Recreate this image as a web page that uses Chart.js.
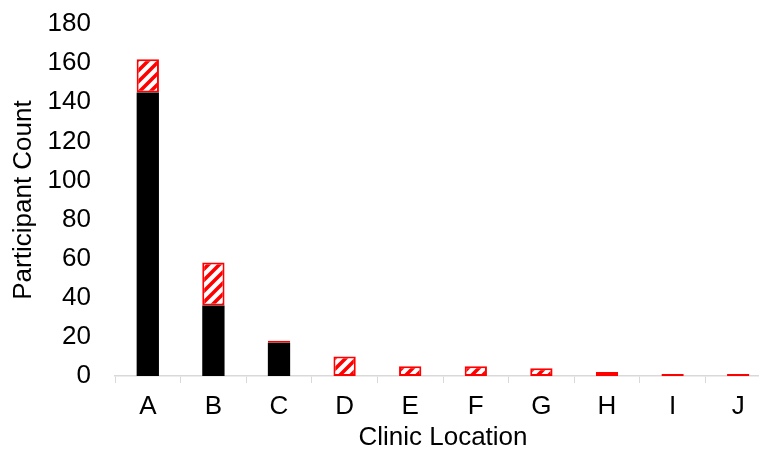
<!DOCTYPE html>
<html>
<head>
<meta charset="utf-8">
<script src="https://cdn.jsdelivr.net/npm/chart.js@4/dist/chart.umd.min.js"></script>
<style>
  html, body { margin: 0; padding: 0; background: #fff; overflow: hidden; }
  canvas { display: block; }
</style>
</head>
<body>
<canvas id="clinicChart" width="771" height="457"></canvas>
<script>
// Valores
const clinics = ["A", "B", "C", "D", "E", "F", "G", "H", "I", "J"];
const solidCounts = [145, 36, 17, 0, 0, 0, 0, 0, 0, 0];
const hatchCounts = [17, 22, 1, 10, 5, 5, 4, 2, 1, 1];
const yTicks = [0, 20, 40, 60, 80, 100, 120, 140, 160, 180];

// padrão listrado vermelho/branco
function makeHatch() {
  const size = 11;
  const c = document.createElement("canvas");
  c.width = size; c.height = size;
  const g = c.getContext("2d");
  g.fillStyle = "#fff";
  g.fillRect(0, 0, size, size);
  g.strokeStyle = "#ff0000";
  g.lineWidth = 3.6;
  g.beginPath();
  g.moveTo(-2, size + 2); g.lineTo(size + 2, -2);
  g.moveTo(-3, 3); g.lineTo(3, -3);
  g.moveTo(size - 3, size + 3); g.lineTo(size + 3, size - 3);
  g.stroke();
  return g.createPattern(c, "repeat");
}

const ctx = document.getElementById("clinicChart").getContext("2d");
const chart = new Chart(ctx, {
  type: "bar",
  data: {
    labels: clinics,
    datasets: [
      { label: "solid", data: solidCounts, backgroundColor: "#000000", borderWidth: 0, barPercentage: 0.34, categoryPercentage: 1 },
      { label: "hatched", data: hatchCounts, backgroundColor: makeHatch(), borderColor: "#ff0000", borderWidth: 2, borderSkipped: false, barPercentage: 0.34, categoryPercentage: 1 }
    ]
  },
  options: {
    responsive: false,
    animation: false,
    devicePixelRatio: 1,
    layout: { padding: { top: 24, right: 0, bottom: 0, left: 0 } },
    plugins: { legend: { display: false }, tooltip: { enabled: false } },
    scales: {
      x: {
        stacked: true,
        grid: { display: true, drawOnChartArea: false, drawTicks: true, tickLength: 7, color: "#d9d9d9", offset: true },
        border: { display: true, color: "#d9d9d9", width: 1.5 },
        ticks: { color: "#000", padding: 8, font: { family: "'Liberation Sans', Arial, sans-serif", size: 26 } },
        title: { display: true, text: "Clinic Location", color: "#000", padding: { top: 0, bottom: 4 }, font: { family: "'Liberation Sans', Arial, sans-serif", size: 26 } },
        afterFit: s => { s.height = 81; }
      },
      y: {
        stacked: true,
        min: 0, max: 180,
        afterBuildTicks: s => { s.ticks = yTicks.map(v => ({ value: v })); },
        grid: { display: false, drawTicks: false },
        border: { display: false },
        ticks: { color: "#000", padding: 24, font: { family: "'Liberation Sans', Arial, sans-serif", size: 26 } },
        title: { display: true, text: "Participant Count", color: "#000", padding: { top: 8, bottom: 0 }, font: { family: "'Liberation Sans', Arial, sans-serif", size: 26 } },
        afterFit: s => { s.width = 115; s.paddingTop = 0; s.paddingBottom = 0; }
      }
    }
  }
});
</script>
</body>
</html>
